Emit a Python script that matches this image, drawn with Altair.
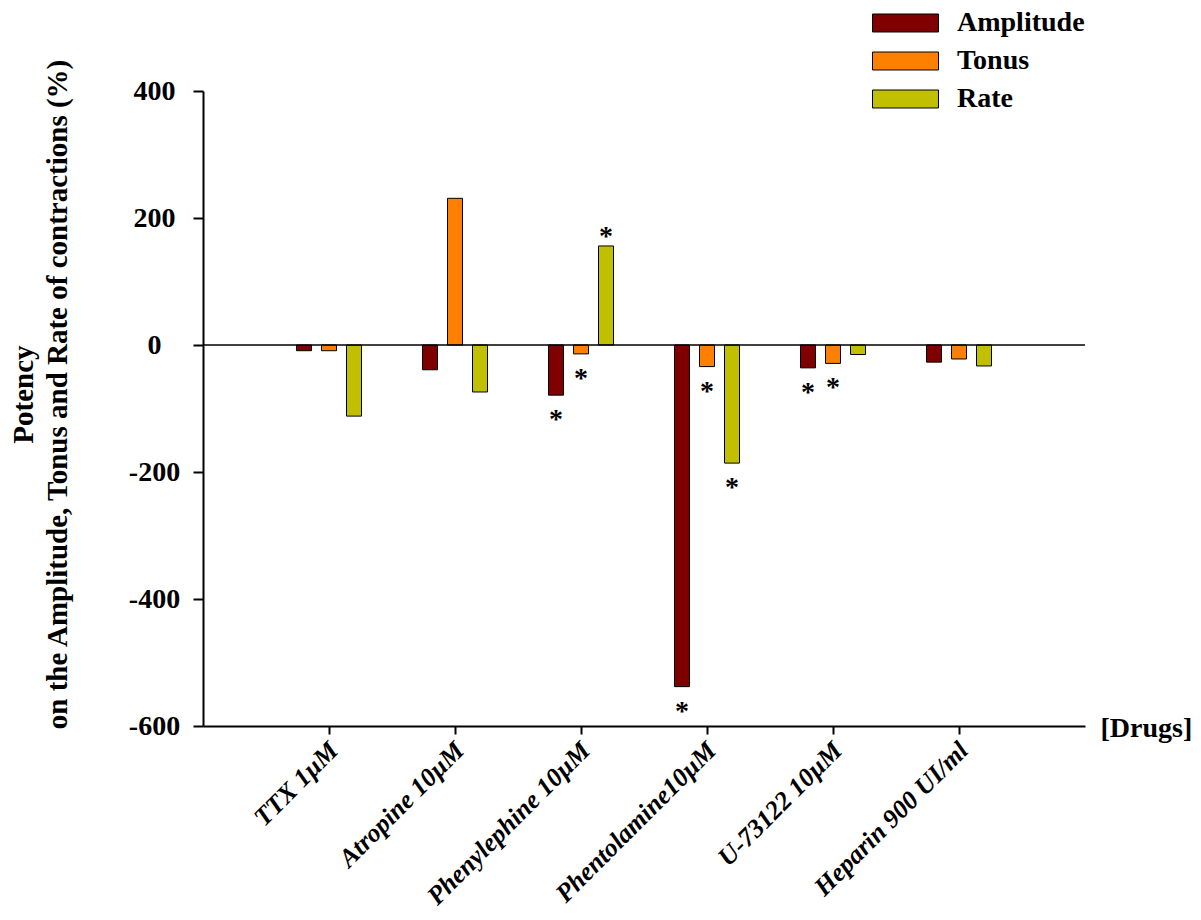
import altair as alt
import pandas as pd

drugs = ["TTX 1µM", "Atropine 10µM", "Phenylephine 10µM", "Phentolamine10µM",
         "U-73122 10µM", "Heparin 900 UI/ml"]
series = ["Amplitude", "Tonus", "Rate"]
amplitude = [-9, -39, -79, -538, -36, -27]
tonus = [-9, 231, -14, -34, -29, -22]
rate = [-112, -74, 156, -186, -15, -33]
colors = ["#800000", "#FF8000", "#C0C000"]
star_drugs = ["Phenylephine 10µM", "Phenylephine 10µM", "Phenylephine 10µM",
              "Phentolamine10µM", "Phentolamine10µM", "Phentolamine10µM",
              "U-73122 10µM", "U-73122 10µM"]
star_series = ["Amplitude", "Tonus", "Rate", "Amplitude", "Tonus", "Rate",
               "Amplitude", "Tonus"]
y_ticks = [-600, -400, -200, 0, 200, 400]

rows = []
for i, d in enumerate(drugs):
    for s, vals in zip(series, [amplitude, tonus, rate]):
        rows.append({"drug": d, "series": s, "value": vals[i]})
df = pd.DataFrame(rows)
stars = df.merge(pd.DataFrame({"drug": star_drugs, "series": star_series}))
stars_neg = stars[stars["value"] < 0]
stars_pos = stars[stars["value"] >= 0]

FONT = "Liberation Serif"

x_enc = alt.X(
    "drug:N", sort=drugs,
    scale=alt.Scale(paddingInner=0, paddingOuter=0.5),
    axis=alt.Axis(
        title="[Drugs]", domainColor="black", domainWidth=2,
        tickColor="black", tickWidth=2, tickSize=8,
        labelAngle=-45, labelAlign="right", labelBaseline="middle",
        labelFont=FONT, labelFontSize=26, labelFontWeight="bold",
        labelFontStyle="italic", labelColor="black", labelPadding=12,
        labelOffset=5, labelOverlap=False, labelLimit=500,
        titleFont=FONT, titleFontSize=28, titleFontWeight="bold",
        titleColor="black", titleAlign="left", titleBaseline="middle",
        titleX=897, titleY=2, titleAnchor="start",
    ),
)
xoff_enc = alt.XOffset("series:N", sort=series,
                       scale=alt.Scale(range=[30.5, 95.5], paddingInner=0.4, paddingOuter=0))
y_enc = alt.Y(
    "value:Q",
    scale=alt.Scale(domain=[-600, 400], nice=False, zero=False),
    axis=alt.Axis(
        values=y_ticks, grid=False,
        title=["Potency", "on the Amplitude, Tonus and Rate of contractions (%)"],
        labelExpr="datum.value < 0 ? '-' + abs(datum.value) : '' + datum.value",
        domainColor="black", domainWidth=2, tickColor="black", tickWidth=2,
        tickSize=10, labelAlign="center", labelPadding=39,
        labelFont=FONT, labelFontSize=28, labelFontWeight="bold",
        labelColor="black",
        titleFont=FONT, titleFontSize=29, titleFontWeight="bold",
        titleColor="black", titleAngle=270, titleAlign="center",
        titleBaseline="alphabetic", titleLineHeight=34,
        titleX=-171, titleY=303,
    ),
)
color_enc = alt.Color(
    "series:N", sort=series,
    scale=alt.Scale(domain=series, range=colors),
    legend=alt.Legend(
        title=None, orient="none", legendX=669, legendY=-85,
        symbolType="M-1,-0.2727L1,-0.2727L1,0.2727L-1,0.2727Z",
        symbolSize=4356, symbolStrokeColor="black", symbolStrokeWidth=1,
        symbolOpacity=1,
        labelFont=FONT, labelFontSize=28, labelFontWeight="bold",
        labelColor="black", labelOffset=18, labelLimit=300,
        clipHeight=34, rowPadding=4, padding=0,
    ),
)

bars = alt.Chart(df).mark_bar(stroke="black", strokeWidth=1, opacity=1).encode(
    x=x_enc, xOffset=xoff_enc, y=y_enc, color=color_enc
)

zero = alt.Chart(pd.DataFrame({"v": [0]})).mark_rule(
    color="black", strokeWidth=1.5
).encode(y=alt.Y("v:Q"))

star_neg = alt.Chart(stars_neg).mark_text(
    text="*", font=FONT, fontSize=28, fontWeight="bold", color="black",
    baseline="alphabetic", dy=33
).encode(x=alt.X("drug:N", sort=drugs), xOffset=alt.XOffset("series:N", sort=series),
         y=alt.Y("value:Q"))

star_pos = alt.Chart(stars_pos).mark_text(
    text="*", font=FONT, fontSize=28, fontWeight="bold", color="black",
    baseline="alphabetic", dy=-1
).encode(x=alt.X("drug:N", sort=drugs), xOffset=alt.XOffset("series:N", sort=series),
         y=alt.Y("value:Q"))

chart = alt.layer(bars, zero, star_neg, star_pos).properties(
    width=882, height=635,
    autosize=alt.AutoSizeParams(type="none"),
    padding={"left": 195, "top": 83, "right": 108, "bottom": 186},
    background="white",
).configure_view(stroke=None)

chart.save("out.html", embed_options={"renderer": "svg", "actions": False})
